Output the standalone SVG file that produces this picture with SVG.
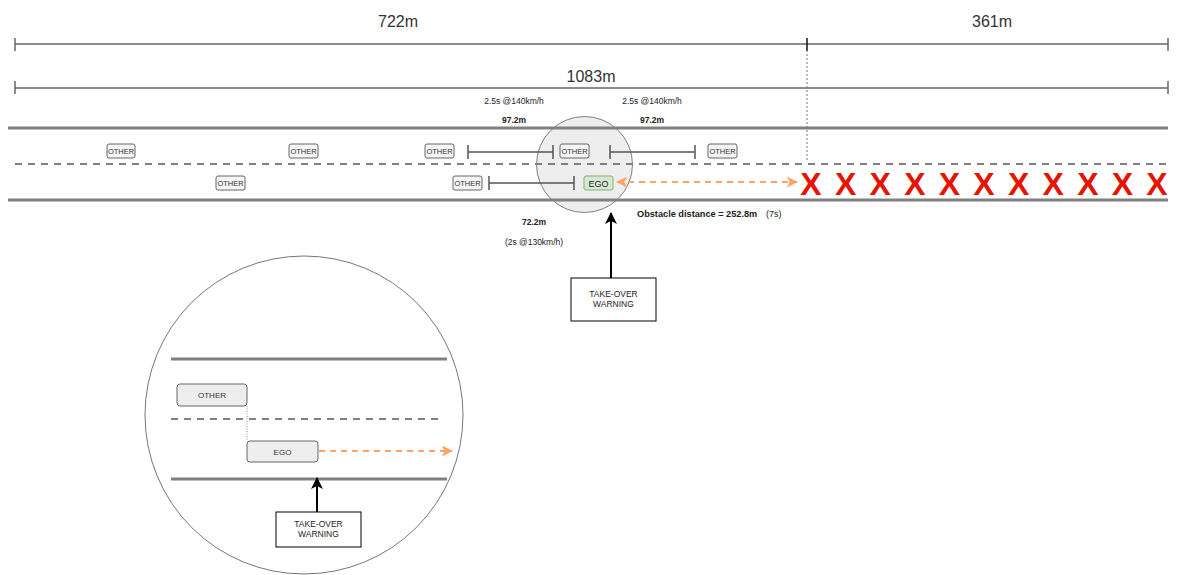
<svg xmlns="http://www.w3.org/2000/svg" width="1178" height="575" viewBox="0 0 1178 575">
<style>
.dim{stroke:#666;stroke-width:1.5;fill:none}
.road{stroke:#808080;stroke-width:3;fill:none}
.lane{stroke:#808080;stroke-width:2;stroke-dasharray:7 6;fill:none}
.t{font-family:"Liberation Sans",Arial,sans-serif;fill:#222}
.big{font-size:16px;text-anchor:middle;fill:#333}
.sm{font-size:8.5px;text-anchor:middle}
.b{font-weight:bold}
.oth rect{fill:#f5f5f5;stroke:#666;stroke-width:1}
.oth text{font-family:"Liberation Sans",Arial,sans-serif;font-size:7.5px;fill:#333;text-anchor:middle}
.brk{stroke:#555;stroke-width:1.5;fill:none}
.orng{stroke:#FFA366;stroke-width:2;stroke-dasharray:6 5;fill:none}
.xm{font-family:"Liberation Sans",Arial,sans-serif;font-weight:bold;font-size:32px;fill:#E51400;text-anchor:middle}
.box{fill:#fff;stroke:#000;stroke-width:1}
.boxt{font-family:"Liberation Sans",Arial,sans-serif;font-size:8.5px;fill:#222;text-anchor:middle}
</style>
<defs>
<marker id="ab" markerUnits="userSpaceOnUse" markerWidth="12" markerHeight="12" viewBox="0 0 12 12" refX="11" refY="6" orient="auto">
<path d="M0,0 L12,6 L0,12 L3,6 z" fill="#000"/>
</marker>
<marker id="ao" markerUnits="userSpaceOnUse" markerWidth="11" markerHeight="11" viewBox="0 0 12 12" refX="11" refY="6" orient="auto-start-reverse">
<path d="M0,0 L12,6 L0,12 L3,6 z" fill="#FFA366"/>
</marker>
</defs>
<rect width="1178" height="575" fill="#fff"/>

<g id="magnifier"><circle cx="584.5" cy="164.5" r="48" fill="#e3e3e3" fill-opacity="0.6" stroke="#808080" stroke-width="1"/></g>

<g id="zoom-circle">
<circle cx="304" cy="415" r="159" fill="#fff" stroke="#777" stroke-width="1"/>
<line class="road" x1="171" y1="359" x2="447" y2="359"/>
<line class="lane" x1="171" y1="419" x2="440" y2="419"/>
<line class="road" x1="171" y1="479" x2="447" y2="479"/>
</g>

<g id="dimensions">
<line class="dim" x1="15" y1="44" x2="1168" y2="44"/>
<line class="dim" x1="15" y1="38" x2="15" y2="51"/>
<line x1="807" y1="38" x2="807" y2="51" stroke="#111" stroke-width="1.5"/>
<line class="dim" x1="1168" y1="38" x2="1168" y2="51"/>
<line class="dim" x1="15" y1="88" x2="1168" y2="88"/>
<line class="dim" x1="15" y1="81" x2="15" y2="94"/>
<line class="dim" x1="1168" y1="81" x2="1168" y2="94"/>
<line x1="807" y1="50" x2="807" y2="160" stroke="#777" stroke-width="1" stroke-dasharray="2 2"/>
<text class="t big" x="398" y="27">722m</text>
<text class="t big" x="992" y="27">361m</text>
<text class="t big" x="591" y="82">1083m</text>
</g>

<g id="road">
<line class="road" x1="8" y1="128" x2="1168" y2="128"/>
<line class="lane" x1="15" y1="164" x2="1168" y2="164"/>
<line class="road" x1="8" y1="200" x2="1168" y2="200"/>
</g>

<g id="labels">
<text class="t sm" x="514" y="104">2.5s @140km/h</text>
<text class="t sm b" x="514" y="123">97.2m</text>
<text class="t sm" x="652" y="104">2.5s @140km/h</text>
<text class="t sm b" x="652" y="123">97.2m</text>
<text class="t sm b" x="534" y="225">72.2m</text>
<text class="t sm" x="534" y="245">(2s @130km/h)</text>
<text class="t" x="637" y="217" font-size="9.2"><tspan font-weight="bold">Obstacle distance = 252.8m</tspan><tspan x="766" font-size="9">(7s)</tspan></text>
</g>

<g id="connectors">
<line class="brk" x1="468" y1="152" x2="553" y2="152"/>
<line class="brk" x1="468" y1="145" x2="468" y2="159"/>
<line class="brk" x1="553" y1="145" x2="553" y2="159"/>
<line class="brk" x1="610" y1="152" x2="695" y2="152"/>
<line class="brk" x1="610" y1="145" x2="610" y2="159"/>
<line class="brk" x1="695" y1="145" x2="695" y2="159"/>
<line class="brk" x1="489" y1="183" x2="574" y2="183"/>
<line class="brk" x1="489" y1="176" x2="489" y2="190"/>
<line class="brk" x1="574" y1="176" x2="574" y2="190"/>
<line class="orng" x1="617" y1="182" x2="797" y2="182" marker-start="url(#ao)" marker-end="url(#ao)"/>
<line x1="611" y1="278" x2="611" y2="213" stroke="#000" stroke-width="2" marker-end="url(#ab)"/>
<line x1="317" y1="512" x2="317" y2="478" stroke="#000" stroke-width="2" marker-end="url(#ab)"/>
<line x1="247" y1="406" x2="247" y2="441" stroke="#888" stroke-width="1" stroke-dasharray="1 1.5"/>
<line class="orng" x1="319" y1="451" x2="452" y2="451" marker-end="url(#ao)"/>
</g>

<g id="other1" class="oth"><rect x="107" y="144" width="28" height="14" rx="2"/><text x="121" y="154">OTHER</text></g>
<g id="other2" class="oth"><rect x="289" y="144" width="29" height="14" rx="2"/><text x="303.5" y="154">OTHER</text></g>
<g id="other3" class="oth"><rect x="425" y="144" width="29" height="14" rx="2"/><text x="439.5" y="154">OTHER</text></g>
<g id="other4" class="oth"><rect x="560" y="144" width="29" height="14" rx="2"/><text x="574.5" y="154">OTHER</text></g>
<g id="other5" class="oth"><rect x="708" y="144" width="29" height="14" rx="2"/><text x="722.5" y="154">OTHER</text></g>
<g id="other6" class="oth"><rect x="216" y="176" width="29" height="14" rx="2"/><text x="230.5" y="186">OTHER</text></g>
<g id="other7" class="oth"><rect x="453" y="176" width="29" height="14" rx="2"/><text x="467.5" y="186">OTHER</text></g>
<g id="ego"><rect x="584" y="176" width="29" height="14" rx="2" fill="#d5e8d4" stroke="#82b366"/><text x="598.5" y="186.5" font-family="Liberation Sans,Arial,sans-serif" font-size="9" fill="#222" text-anchor="middle">EGO</text></g>

<g id="obstacles">
<text class="xm" x="811" y="195">X</text>
<text class="xm" x="845.6" y="195">X</text>
<text class="xm" x="880.2" y="195">X</text>
<text class="xm" x="914.8" y="195">X</text>
<text class="xm" x="949.4" y="195">X</text>
<text class="xm" x="984" y="195">X</text>
<text class="xm" x="1018.6" y="195">X</text>
<text class="xm" x="1053.2" y="195">X</text>
<text class="xm" x="1087.8" y="195">X</text>
<text class="xm" x="1122.4" y="195">X</text>
<text class="xm" x="1157" y="195">X</text>
</g>

<g id="warning"><rect class="box" x="571" y="278" width="85" height="43"/><text class="boxt" x="613.5" y="297">TAKE-OVER</text><text class="boxt" x="613.5" y="307">WARNING</text></g>

<g id="zoom-other"><rect x="177" y="384" width="70" height="22" rx="3" fill="#eee" stroke="#666"/><text x="212" y="398" font-family="Liberation Sans,Arial,sans-serif" font-size="8" fill="#333" text-anchor="middle">OTHER</text></g>
<g id="zoom-ego"><rect x="247" y="441" width="71" height="21" rx="3" fill="#eee" stroke="#666"/><text x="282.5" y="454.5" font-family="Liberation Sans,Arial,sans-serif" font-size="8" fill="#333" text-anchor="middle">EGO</text></g>
<g id="zoom-warning"><rect class="box" x="276" y="512" width="85" height="35"/><text class="boxt" x="318.5" y="527">TAKE-OVER</text><text class="boxt" x="318.5" y="537">WARNING</text></g>
</svg>
